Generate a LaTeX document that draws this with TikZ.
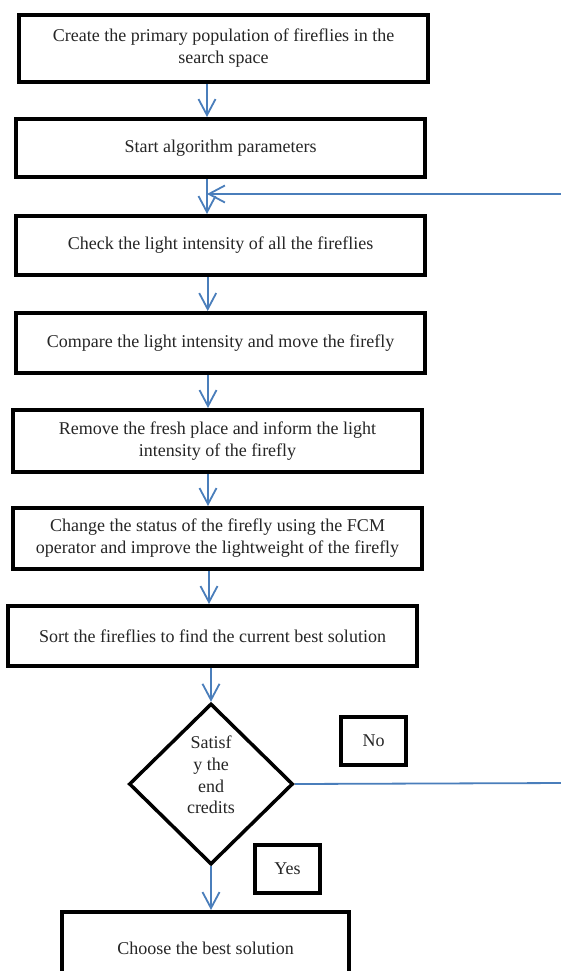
\documentclass[tikz,border=0pt]{standalone}
\usepackage{fontspec}
\setmainfont{Liberation Serif}
\usetikzlibrary{arrows.meta,shapes.geometric}
\definecolor{arrblue}{HTML}{4A7EBB}
\definecolor{txt}{HTML}{262626}
\begin{document}
\begin{tikzpicture}[x=1pt,y=-1pt,
  box/.style={draw=black, line width=4pt, minimum width=409pt, align=center,
    font=\fontsize{18}{22}\selectfont, text=txt, inner sep=0pt},
  smallbox/.style={draw=black, line width=4pt, minimum width=65pt, minimum height=48pt,
    font=\fontsize{18}{22}\selectfont, text=txt, inner sep=0pt},
  decision/.style={diamond, draw=black, line width=3.5pt, minimum width=164pt,
    minimum height=161pt, inner sep=0pt},
  dtext/.style={align=center, font=\fontsize{18}{21.7}\selectfont, text=txt, inner sep=0pt},
  arr/.style={draw=arrblue, line width=1.8pt, -{Straight Barb[length=16pt,width=17pt]}},
  link/.style={draw=arrblue, line width=1.8pt},
]
\useasboundingbox (0,0) rectangle (561,971);
\clip (0,0) rectangle (561,971);
\fill[white] (0,0) rectangle (561,971);

\node[box, minimum height=67pt] (b1) at (223.5,48.5) {Create the primary population of fireflies in the\\search space};
\node[box, minimum height=58pt] (b2) at (220.5,148) {Start algorithm parameters};
\node[box, minimum height=59pt] (b3) at (220.5,245.5) {Check the light intensity of all the fireflies};
\node[box, minimum height=60pt] (b4) at (220.5,343) {Compare the light intensity and move the firefly};
\node[box, minimum height=62pt] (b5) at (217.5,441) {Remove the fresh place and inform the light\\intensity of the firefly};
\node[box, minimum height=61pt] (b6) at (217.5,538.5) {Change the status of the firefly using the FCM\\operator and improve the lightweight of the firefly};
\node[box, minimum height=60pt] (b7) at (212.5,636) {Sort the fireflies to find the current best solution};
\node[decision] (dm) at (211,784) {};
\node[dtext] (dmtext) at (211,775) {Satisf\\y the\\end\\credits};
\node[smallbox] (no) at (373.5,741) {No};
\node[smallbox] (yes) at (287.5,869) {Yes};
\node[box, minimum width=287pt, minimum height=72pt] (b8) at (205.5,948) {Choose the best solution};

\coordinate (a1) at (207,0);
\coordinate (a2) at (207,0);
\coordinate (a3) at (207.7,0);
\coordinate (a4) at (208,0);
\coordinate (a5) at (208,0);
\coordinate (a6) at (209,0);
\coordinate (a7) at (211,0);
\coordinate (a8) at (211,0);
\coordinate (join) at (207,194);
\coordinate (fbR) at (565,194);
\coordinate (noR) at (565,783);

\draw[arr] (b1.south -| a1) -- (b2.north -| a1);
\draw[arr] (b2.south -| a2) -- (b3.north -| a2);
\draw[arr] (fbR) -- (join);
\draw[arr] (b3.south -| a3) -- (b4.north -| a3);
\draw[arr] (b4.south -| a4) -- (b5.north -| a4);
\draw[arr] (b5.south -| a5) -- (b6.north -| a5);
\draw[arr] (b6.south -| a6) -- (b7.north -| a6);
\draw[arr] (b7.south -| a7) -- (dm.north);
\draw[arr] (dm.south) -- (b8.north -| a8);
\draw[link] (dm.east) -- (noR);
\end{tikzpicture}
\end{document}
